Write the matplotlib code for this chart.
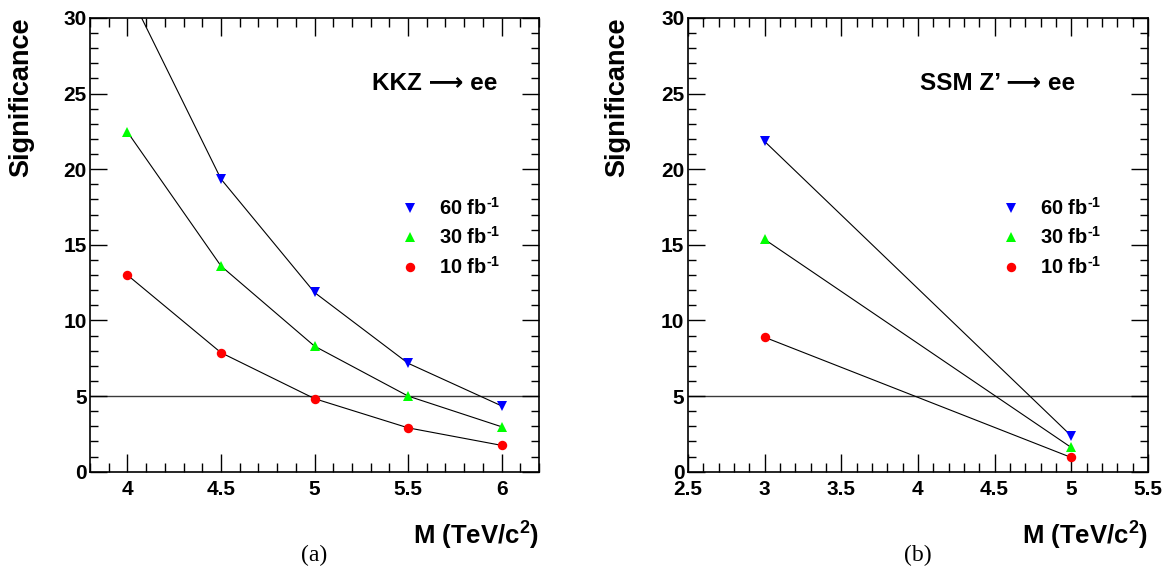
import matplotlib
matplotlib.use("Agg")
import matplotlib.pyplot as plt
from matplotlib.ticker import MultipleLocator

plt.rcParams['font.family'] = ['Liberation Sans', 'DejaVu Sans']
plt.rcParams['font.weight'] = 'bold'
plt.rcParams['mathtext.fontset'] = 'custom'
plt.rcParams['mathtext.rm'] = 'Liberation Sans:bold'
plt.rcParams['mathtext.bf'] = 'Liberation Sans:bold'
plt.rcParams['mathtext.it'] = 'Liberation Sans:bold'
plt.rcParams['mathtext.default'] = 'bf'

# panel (a): KKZ -> ee
kkz_mass = [4.0, 4.5, 5.0, 5.5, 6.0]
kkz_60 = [31.9, 19.35, 11.85, 7.17, 4.35]
kkz_30 = [22.46, 13.6, 8.3, 5.0, 2.97]
kkz_10 = [13.0, 7.87, 4.83, 2.9, 1.74]

# panel (b): SSM Z' -> ee
ssm_mass = [3.0, 5.0]
ssm_60 = [21.84, 2.37]
ssm_30 = [15.36, 1.6]
ssm_10 = [8.89, 0.94]

lumi_labels = ["60 fb$^{\u20101}$", "30 fb$^{\u20101}$", "10 fb$^{\u20101}$"]
x_ticks_a = [4, 4.5, 5, 5.5, 6]
x_ticks_b = [2.5, 3, 3.5, 4, 4.5, 5, 5.5]
y_ticks = [0, 5, 10, 15, 20, 25, 30]

fig = plt.figure(figsize=(11.68, 5.73), dpi=100)
ax_a = fig.add_axes([0.0771, 0.1768, 0.3844, 0.7918])
ax_b = fig.add_axes([0.5890, 0.1768, 0.3938, 0.7918])


def draw_panel(ax, mass, s60, s30, s10, xlim, xticks, title, title_x, leg_x, panel_tag):
    styles = [(s60, 'v', '#0000ff', 7.2), (s30, '^', '#00ff00', 7.2), (s10, 'o', '#ff0000', 6.8)]
    handles = []
    for (vals, mk, col, ms), lab in zip(styles, lumi_labels):
        ax.plot(mass, vals, color='black', lw=0.8, zorder=2)
        h, = ax.plot(mass, vals, ls='none', marker=mk, color=col, ms=ms,
                     mew=0, zorder=3, label=lab)
        handles.append(h)
    ax.axhline(5, color='#3a3a3a', lw=1.0, zorder=1)

    ax.set_xlim(*xlim)
    ax.set_ylim(0, 30)
    ax.set_xticks(xticks)
    ax.set_xticklabels([('%g' % t) for t in xticks])
    ax.set_yticks(y_ticks)
    ax.xaxis.set_minor_locator(MultipleLocator(0.1))
    ax.yaxis.set_minor_locator(MultipleLocator(1))
    ax.tick_params(which='both', direction='in', top=True, right=True,
                   labelsize=15, width=1.0)
    ax.tick_params(axis='x', which='major', length=13, pad=6)
    ax.tick_params(axis='x', which='minor', length=6.5)
    ax.tick_params(axis='y', which='major', length=12, pad=2.5)
    ax.tick_params(axis='y', which='minor', length=6)
    for lbl in ax.get_xticklabels() + ax.get_yticklabels():
        lbl.set_fontweight('bold')
    for sp in ax.spines.values():
        sp.set_linewidth(1.2)

    ax.set_ylabel("Significance", fontsize=19.5, fontweight='bold', loc='top')
    ax.yaxis.set_label_coords(-0.125, 1.0)
    ax.set_xlabel("M (TeV/c$^{2}$)", fontsize=18.5, fontweight='bold', loc='right')
    ax.xaxis.label.set_verticalalignment('baseline')
    ax.xaxis.set_label_coords(1.0, -0.1616)

    ax.text(title_x, 0.8557, title, transform=ax.transAxes, fontsize=17.5,
            fontweight='bold', ha='left', va='center')

    ax.legend(handles=handles, loc='upper left', bbox_to_anchor=(leg_x, 0.6055),
              frameon=False, fontsize=14.5, handlelength=1.0, handletextpad=0.95,
              borderpad=0, borderaxespad=0, labelspacing=0.37)

    ax.text(0.5, -0.1836, panel_tag, transform=ax.transAxes, fontsize=17,
            family='Liberation Serif', fontweight='normal', ha='center', va='center')


draw_panel(ax_a, kkz_mass, kkz_60, kkz_30, kkz_10, (3.8, 6.2), x_ticks_a,
           "KKZ \u27f6 ee", 0.627, 0.690, "(a)")
draw_panel(ax_b, ssm_mass, ssm_60, ssm_30, ssm_10, (2.5, 5.5), x_ticks_b,
           "SSM Z\u2019 \u27f6 ee", 0.504, 0.680, "(b)")

fig.savefig("out.png", dpi=100)
